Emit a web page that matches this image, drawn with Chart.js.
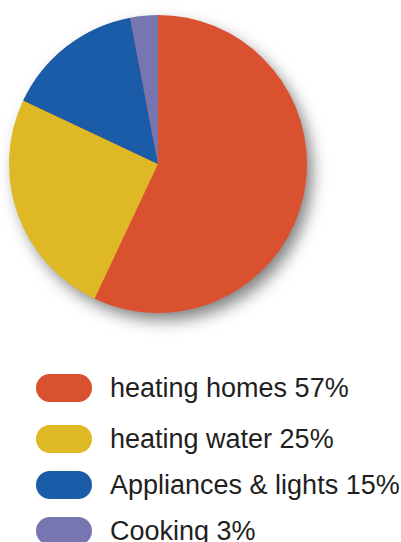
<!DOCTYPE html>
<html>
<head>
<meta charset="utf-8">
<script src="https://cdn.jsdelivr.net/npm/chart.js@4/dist/chart.umd.min.js"></script>
<style>
  body { margin: 0; background: #fff; width: 401px; height: 542px; overflow: hidden; font-family: "Liberation Sans", Arial, sans-serif; }
  #wrap { position: relative; width: 401px; height: 340px; }
  #legend { position: absolute; left: 36px; top: 374px; }
  .item { display: flex; align-items: center; height: 28px; margin-bottom: 18px; }
  .item:first-child { margin-bottom: 23px; }
  .pill { width: 56px; height: 28px; border-radius: 14px; margin-right: 18px; }
  .txt { font-size: 27px; color: #231f20; white-space: nowrap; }
</style>
</head>
<body>
<div id="wrap"><canvas id="pie" width="401" height="340"></canvas></div>
<div id="legend"></div>
<script>
const labels = ['heating homes', 'heating water', 'Appliances & lights', 'Cooking'];
const values = [57, 25, 15, 3];
const colors = ['#d9512f', '#deb925', '#1a5ca8', '#7876b1'];

const shadowPlugin = {
  id: 'pieShadow',
  beforeDatasetsDraw(chart) {
    const arc = chart.getDatasetMeta(0).data[0];
    if (!arc) return;
    const ctx = chart.ctx;
    ctx.save();
    ctx.shadowColor = 'rgba(0,0,0,0.5)';
    ctx.shadowBlur = 16;
    ctx.shadowOffsetX = 6;
    ctx.shadowOffsetY = 8;
    ctx.fillStyle = colors[0];
    ctx.beginPath();
    ctx.arc(arc.x, arc.y, arc.outerRadius - 1, 0, Math.PI * 2);
    ctx.fill();
    ctx.restore();
  }
};

const canvas = document.getElementById('pie');
const myChart = new Chart(canvas.getContext('2d'), {
  type: 'pie',
  data: {
    labels: labels,
    datasets: [{
      data: values,
      backgroundColor: colors,
      borderWidth: 0,
    }],
  },
  options: {
    responsive: false,
    animation: false,
    layout: { padding: { left: 9, right: 94, top: 14, bottom: 26 } },
    plugins: {
      legend: { display: false },
      tooltip: { enabled: false },
    },
  },
  plugins: [shadowPlugin],
});

const legend = document.getElementById('legend');
labels.forEach(function (label, i) {
  const item = document.createElement('div');
  item.className = 'item';
  const pill = document.createElement('div');
  pill.className = 'pill';
  pill.style.background = colors[i];
  const txt = document.createElement('span');
  txt.className = 'txt';
  txt.textContent = label + ' ' + values[i] + '%';
  item.appendChild(pill);
  item.appendChild(txt);
  legend.appendChild(item);
});
</script>
</body>
</html>
